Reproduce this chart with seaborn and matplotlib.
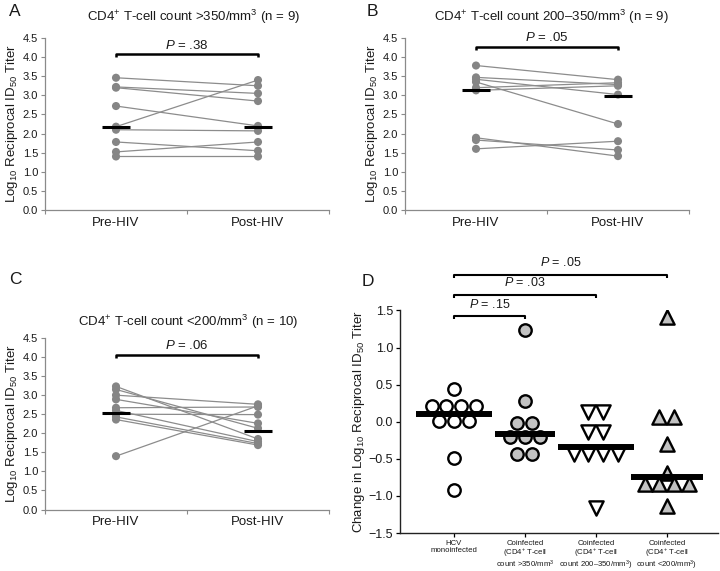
import numpy as np
import pandas as pd
import matplotlib
matplotlib.use("Agg")
import matplotlib.pyplot as plt
import seaborn as sns

sns.set_style("ticks")
plt.rcParams["font.family"] = ["Liberation Sans", "DejaVu Sans"]
plt.rcParams["mathtext.fontset"] = "custom"
plt.rcParams["mathtext.rm"] = "Liberation Sans"
plt.rcParams["mathtext.it"] = "Liberation Sans:italic"
plt.rcParams["mathtext.bf"] = "Liberation Sans:bold"
plt.rcParams["axes.unicode_minus"] = True

# ---------------- data ----------------
timepoints = ["Pre-HIV", "Post-HIV"]

# Panel A: CD4 > 350 (paired, subject order)
a_pre = [3.46, 3.22, 3.20, 2.72, 2.18, 2.10, 1.78, 1.52, 1.40]
a_post = [3.25, 3.05, 2.85, 2.20, 3.40, 2.07, 1.55, 1.78, 1.40]
a_median = [2.18, 2.18]
a_title = r"CD4$^{+}$ T-cell count >350/mm$^{3}$ (n = 9)"
a_p = r"$\mathit{P}$ = .38"

# Panel B: CD4 200-350
b_pre = [3.78, 3.47, 3.42, 3.35, 3.20, 3.13, 1.89, 1.83, 1.60]
b_post = [3.41, 3.28, 3.02, 2.25, 3.33, 3.25, 1.41, 1.57, 1.80]
b_median = [3.15, 2.98]
b_title = r"CD4$^{+}$ T-cell count 200–350/mm$^{3}$ (n = 9)"
b_p = r"$\mathit{P}$ = .05"

# Panel C: CD4 < 200
c_pre = [3.23, 3.15, 3.00, 2.89, 2.67, 2.60, 2.50, 2.43, 2.36, 1.40]
c_post = [1.85, 2.13, 2.76, 2.26, 2.69, 1.78, 2.49, 1.73, 1.69, 2.72]
c_median = [2.52, 2.05]
c_title = r"CD4$^{+}$ T-cell count <200/mm$^{3}$ (n = 10)"
c_p = r"$\mathit{P}$ = .06"

# Panel D: change in titer
d_groups = ["HCV\nmonoinfected",
            "Coinfected\n(CD4$^{+}$ T-cell\ncount >350/mm$^{3}$",
            "Coinfected\n(CD4$^{+}$ T-cell\ncount 200–350/mm$^{3}$)",
            "Coinfected\n(CD4$^{+}$ T-cell\ncount <200/mm$^{3}$)"]
d_hcv = [0.445, 0.216, 0.216, 0.216, 0.216, 0.01, 0.01, 0.01, -0.49, -0.92]
d_gt350 = [1.23, 0.28, -0.02, -0.02, -0.20, -0.20, -0.20, -0.44, -0.44]
d_200_350 = [0.135, 0.135, -0.135, -0.135, -0.43, -0.43, -0.43, -0.43, -1.16]
d_lt200 = [1.41, 0.06, 0.06, -0.30, -0.69, -0.84, -0.84, -0.84, -0.84, -1.13]
d_median = [0.10, -0.17, -0.34, -0.74]
d_pvals = [r"$\mathit{P}$ = .15", r"$\mathit{P}$ = .03", r"$\mathit{P}$ = .05"]
d_pairs = [(0, 1), (0, 2), (0, 3)]

# ---------------- figure ----------------
W, H = 720, 571
fig = plt.figure(figsize=(W / 100, H / 100), dpi=100)
fig.patch.set_facecolor("white")


def px_axes(left, right, top, bottom):
    return fig.add_axes([left / W, 1 - bottom / H, (right - left) / W, (bottom - top) / H])


GRAY = "#8a8a8a"
TXT = "#1a1a1a"


def pair_panel(ax, pre, post, medians, ptext, bracket_y, text_y):
    n = len(pre)
    df = pd.DataFrame({"subject": np.tile(np.arange(n), 2),
                       "time": np.repeat([0, 1], n),
                       "titer": np.concatenate([pre, post])})
    sns.lineplot(data=df, x="time", y="titer", units="subject", estimator=None,
                 color="#8c8c8c", lw=0.9, ax=ax, zorder=2, legend=False)
    sns.scatterplot(data=df, x="time", y="titer", color="#858585", s=34,
                    edgecolor="none", ax=ax, zorder=3, legend=False)
    for i, m in enumerate(medians):
        ax.hlines(m, i - 0.1, i + 0.1, color="black", lw=2.2, zorder=4)
    # bracket
    ax.plot([0, 0, 1, 1], [bracket_y - 0.08, bracket_y, bracket_y, bracket_y - 0.08],
            color="black", lw=1.8, clip_on=False, solid_capstyle="butt")
    ax.text(0.5, text_y, ptext, ha="center", va="center", fontsize=9.5, color=TXT)
    ax.set_xlim(-0.5, 1.5)
    ax.set_ylim(0, 4.5)
    ax.set_yticks(np.arange(0, 4.51, 0.5))
    ax.set_yticklabels([f"{v:.1f}" for v in np.arange(0, 4.51, 0.5)])
    ax.set_xticks([0, 1])
    ax.set_xticklabels(timepoints)
    ax.set_xticks([-0.5, 0.5, 1.5], minor=True)
    ax.tick_params(axis="x", which="major", length=0, labelsize=9.5, pad=5, colors=TXT)
    ax.tick_params(axis="x", which="minor", length=3, color=GRAY, width=0.8)
    ax.tick_params(axis="y", length=3, color=GRAY, width=0.8, labelsize=8, pad=2, labelcolor=TXT)
    ax.set_xlabel("")
    ax.set_ylabel(r"Log$_{10}$ Reciprocal ID$_{50}$ Titer", fontsize=9.5, labelpad=2, color=TXT)
    sns.despine(ax=ax)
    for s in ["left", "bottom"]:
        ax.spines[s].set_color(GRAY)
        ax.spines[s].set_linewidth(0.9)


axA = px_axes(45, 329, 38, 210)
pair_panel(axA, a_pre, a_post, a_median, a_p, 4.07, 4.31)
axB = px_axes(405, 689, 38, 210)
pair_panel(axB, b_pre, b_post, b_median, b_p, 4.27, 4.51)
axC = px_axes(45, 329, 338, 509.5)
pair_panel(axC, c_pre, c_post, c_median, c_p, 4.06, 4.31)

fig.text(193 / W, 1 - 17 / H, a_title, ha="center", va="center", fontsize=9.5, color=TXT)
fig.text(551 / W, 1 - 17 / H, b_title, ha="center", va="center", fontsize=9.5, color=TXT)
fig.text(188 / W, 1 - 322 / H, c_title, ha="center", va="center", fontsize=9.5, color=TXT)
for lab, x, y in [("A", 15, 12), ("B", 372, 12), ("C", 15, 280), ("D", 368, 281)]:
    fig.text(x / W, 1 - y / H, lab, ha="center", va="center", fontsize=12.5, color=TXT)

# ---------------- panel D ----------------
axD = px_axes(400, 718, 310.4, 533)
d_values = [d_hcv, d_gt350, d_200_350, d_lt200]
d_styles = [("o", "white", 80), ("o", "#c2c2c2", 80), ("v", "white", 105), ("^", "#c2c2c2", 105)]
d_bar_half = [0.53, 0.42, 0.53, 0.51]
spacing = 0.21


def row_offsets(vals, step):
    vals = np.asarray(vals, dtype=float)
    off = np.zeros_like(vals)
    for u in np.unique(vals):
        idx = np.where(vals == u)[0]
        off[idx] = (np.arange(len(idx)) - (len(idx) - 1) / 2) * step
    return off


for gi, (vals, (mk, fc, ms)) in enumerate(zip(d_values, d_styles)):
    dfg = pd.DataFrame({"x": gi + row_offsets(vals, spacing), "change": vals})
    sns.scatterplot(data=dfg, x="x", y="change", marker=mk, color=fc, edgecolor="black",
                    linewidth=1.7, s=ms, ax=axD, zorder=3, legend=False)
    axD.hlines(d_median[gi], gi - d_bar_half[gi], gi + d_bar_half[gi], color="black",
               lw=4.3, zorder=4)

bracket_levels = [1.42, 1.71, 1.98]
for (g0, g1), lvl, pt in zip(d_pairs, bracket_levels, d_pvals):
    axD.plot([g0, g0, g1, g1], [lvl - 0.04, lvl, lvl, lvl - 0.04], color="black", lw=1.5,
             clip_on=False, solid_capstyle="butt")
    axD.text((g0 + g1) / 2, lvl + 0.16, pt, ha="center", va="center", fontsize=9, color=TXT)

axD.set_xlim(-0.76, 3.72)
axD.set_ylim(-1.5, 1.5)
axD.set_yticks(np.arange(-1.5, 1.51, 0.5))
axD.set_yticklabels([f"{v:.1f}".replace("-", "\u2212") for v in np.arange(-1.5, 1.51, 0.5)])
axD.set_xticks(range(len(d_groups)))
axD.set_xticklabels(d_groups, fontsize=5.6, linespacing=0.95, color=TXT)
axD.tick_params(axis="x", length=3, width=0.9, color="black", pad=2)
axD.tick_params(axis="y", length=3, width=0.9, color="black", labelsize=9, pad=2, labelcolor=TXT)
axD.set_xlabel("")
axD.set_ylabel(r"Change in Log$_{10}$ Reciprocal ID$_{50}$ Titer", fontsize=9.5, labelpad=1, color=TXT)
sns.despine(ax=axD)
for s in ["left", "bottom"]:
    axD.spines[s].set_color("#222222")
    axD.spines[s].set_linewidth(1.0)

fig.savefig("out.png", dpi=100, facecolor="white")
